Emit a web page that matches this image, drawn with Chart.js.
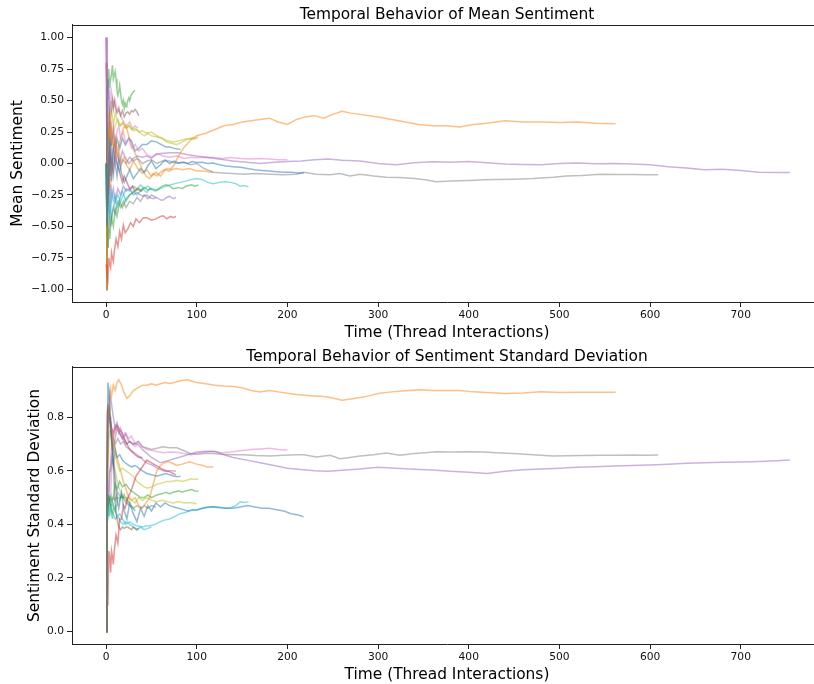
<!DOCTYPE html>
<html>
<head>
<meta charset="utf-8">
<script src="https://cdn.jsdelivr.net/npm/chart.js@4.4.0/dist/chart.umd.min.js"></script>
<style>
  html, body { margin: 0; padding: 0; background: #fff; overflow: hidden; width: 814px; height: 684px; }
  .panel { position: absolute; left: 0; width: 830px; height: 342px; }
  #top { top: 0; }
  #bottom { top: 342px; }
</style>
</head>
<body>
<div class="panel" id="top"><canvas id="meanChart" width="830" height="342"></canvas></div>
<div class="panel" id="bottom"><canvas id="stdChart" width="830" height="342"></canvas></div>
<script>
// tick labels
const xTicks = [0, 100, 200, 300, 400, 500, 600, 700];
const meanTicks = [-1, -0.75, -0.5, -0.25, 0, 0.25, 0.5, 0.75, 1];
const stdTicks = [0, 0.2, 0.4, 0.6, 0.8];

// one row per sample: [interaction, mean sentiment, sentiment std]
const blueLong = [[0,0,0],[1,-0.5,0.5],[2,-0.33,0.93],[3,-0.05,0.9],[4,0.2,0.84],[5,0,0.78],[6,-0.14,0.72],[8,0.1,0.64],[10,0,0.57],[12,-0.1,0.5],[14,0.05,0.46],[17,-0.08,0.52],[20,-0.15,0.45],[23,-0.1,0.42],[26,-0.05,0.48],[30,-0.12,0.44],[34,-0.08,0.41],[38,-0.04,0.46],[42,-0.07,0.43],[46,-0.02,0.47],[50,0.02,0.45],[55,-0.04,0.48],[60,-0.01,0.465],[65,0.03,0.48],[70,0,0.47],[75,0.02,0.465],[80,0.005,0.46],[85,0.01,0.455],[90,0,0.45],[95,0.015,0.455],[100,0.008,0.453],[106,0.01,0.46],[112,0,0.465],[118,0.003,0.466],[125,-0.01,0.462],[132,-0.02,0.46],[140,-0.025,0.46],[148,-0.03,0.465],[156,-0.04,0.47],[164,-0.05,0.465],[172,-0.055,0.46],[180,-0.06,0.46],[188,-0.065,0.455],[196,-0.07,0.45],[204,-0.07,0.44],[212,-0.075,0.435],[218,-0.075,0.428]];

const orangeLong = [[0,-1,0],[1,-0.5,0.5],[2,0,0.82],[3,0.25,0.83],[4,0.4,0.8],[5,0.17,0.9],[6,0.29,0.88],[8,0.12,0.92],[10,0.2,0.9],[12,0.05,0.93],[14,0.1,0.94],[17,0,0.92],[20,0.05,0.89],[23,-0.02,0.87],[26,-0.05,0.88],[30,0.02,0.9],[35,-0.04,0.91],[40,-0.08,0.92],[45,-0.05,0.92],[50,-0.1,0.925],[55,-0.07,0.92],[60,-0.1,0.925],[65,-0.05,0.93],[70,-0.06,0.926],[75,-0.01,0.93],[80,0.06,0.935],[85,0.12,0.938],[90,0.16,0.94],[95,0.2,0.935],[100,0.22,0.93],[110,0.24,0.925],[120,0.27,0.92],[130,0.3,0.917],[140,0.31,0.915],[150,0.33,0.91],[160,0.34,0.9],[170,0.35,0.895],[180,0.36,0.9],[190,0.33,0.895],[200,0.31,0.89],[210,0.35,0.885],[220,0.37,0.882],[230,0.38,0.88],[240,0.36,0.878],[250,0.39,0.872],[260,0.415,0.864],[270,0.4,0.868],[280,0.39,0.874],[290,0.38,0.88],[300,0.37,0.889],[315,0.35,0.895],[330,0.33,0.899],[345,0.31,0.903],[360,0.3,0.9],[375,0.3,0.9],[390,0.29,0.9],[405,0.31,0.895],[420,0.32,0.893],[440,0.34,0.889],[460,0.33,0.891],[480,0.33,0.895],[500,0.325,0.893],[520,0.33,0.894],[540,0.32,0.894],[562,0.315,0.894]];

const greenMid = [[0,0,0],[1,-0.5,0.5],[2,-0.67,0.47],[3,-0.5,0.5],[4,-0.6,0.49],[5,-0.5,0.5],[6,-0.43,0.49],[8,-0.5,0.5],[10,-0.36,0.55],[12,-0.42,0.53],[15,-0.3,0.56],[18,-0.35,0.54],[22,-0.28,0.55],[26,-0.25,0.53],[30,-0.23,0.52],[34,-0.2,0.51],[38,-0.22,0.5],[42,-0.19,0.5],[46,-0.21,0.51],[50,-0.2,0.5],[56,-0.21,0.51],[62,-0.18,0.515],[66,-0.17,0.52],[70,-0.18,0.515],[74,-0.2,0.52],[80,-0.19,0.525],[84,-0.2,0.52],[88,-0.18,0.525],[94,-0.17,0.53],[98,-0.18,0.525],[102,-0.17,0.524]];

const redMid = [[0,-0.8,0],[1,-0.9,0.1],[2,-0.93,0.1],[3,-0.75,0.3],[4,-0.8,0.28],[5,-0.83,0.22],[6,-0.71,0.3],[7,-0.75,0.28],[8,-0.78,0.25],[9,-0.7,0.3],[11,-0.6,0.36],[13,-0.66,0.33],[15,-0.54,0.42],[17,-0.6,0.42],[19,-0.49,0.47],[21,-0.55,0.46],[24,-0.52,0.5],[27,-0.47,0.52],[30,-0.5,0.55],[33,-0.44,0.58],[37,-0.47,0.6],[41,-0.43,0.62],[45,-0.43,0.64],[50,-0.45,0.63],[55,-0.44,0.62],[60,-0.42,0.61],[63,-0.415,0.605],[67,-0.44,0.6],[71,-0.42,0.595],[74,-0.43,0.59],[77,-0.42,0.584]];

const purpleLong = [[0,1,0],[1,0.5,0.5],[2,0,0.82],[3,-0.25,0.83],[4,0,0.89],[5,0.2,0.87],[6,0,0.85],[8,0.12,0.8],[10,0.18,0.76],[12,0.08,0.78],[15,0,0.74],[18,0.1,0.72],[21,0.05,0.74],[25,0,0.71],[30,0.04,0.7],[35,0.06,0.7],[40,0.05,0.68],[45,0.06,0.665],[50,0.04,0.65],[55,0.07,0.64],[60,0.08,0.63],[70,0.085,0.64],[80,0.085,0.65],[90,0.07,0.66],[100,0.06,0.67],[110,0.05,0.673],[120,0.04,0.672],[130,0.03,0.66],[140,0.02,0.65],[155,0.01,0.64],[170,0,0.63],[185,0.01,0.62],[200,0.015,0.61],[215,0.02,0.605],[230,0.03,0.6],[245,0.035,0.598],[260,0.025,0.602],[280,0.02,0.607],[300,0,0.613],[320,-0.01,0.61],[340,0.005,0.606],[360,0.013,0.603],[380,0.01,0.598],[400,0.015,0.595],[420,0.005,0.59],[440,-0.005,0.598],[460,-0.008,0.604],[480,-0.01,0.607],[500,0,0.61],[520,0.003,0.613],[540,-0.002,0.615],[560,0,0.618],[580,-0.005,0.62],[600,-0.01,0.622],[620,-0.025,0.625],[640,-0.035,0.628],[660,-0.05,0.63],[680,-0.045,0.632],[700,-0.055,0.633],[720,-0.07,0.635],[740,-0.072,0.638],[754,-0.072,0.64]];

const brownShort = [[0,-1,0],[1,-0.5,0.5],[2,0,0.82],[3,0.25,0.83],[4,0.4,0.8],[5,0.5,0.76],[6,0.43,0.73],[7,0.5,0.68],[8,0.44,0.62],[9,0.5,0.55],[10,0.45,0.48],[12,0.4,0.42],[14,0.43,0.39],[16,0.38,0.38],[18,0.42,0.39],[20,0.37,0.385],[22,0.4,0.39],[24,0.41,0.39],[26,0.39,0.385],[28,0.42,0.38],[30,0.41,0.39],[32,0.43,0.385],[34,0.41,0.38],[36,0.38,0.385]];

const pinkMid = [[0,1,0],[1,0.6,0.4],[2,0.3,0.55],[3,0.5,0.52],[4,0.25,0.6],[5,0.35,0.62],[6,0.2,0.7],[8,0.3,0.75],[10,0.15,0.77],[12,0.25,0.76],[14,0.3,0.74],[16,0.2,0.75],[19,0.25,0.72],[22,0.15,0.74],[25,0.2,0.72],[28,0.12,0.73],[32,0.15,0.7],[36,0.1,0.71],[40,0.12,0.69],[45,0.07,0.68],[50,0.05,0.677],[56,0.08,0.672],[63,0.06,0.668],[70,0.05,0.67],[78,0.06,0.669],[86,0.04,0.665],[94,0.05,0.66],[100,0.045,0.665],[110,0.05,0.67],[118,0.048,0.673],[128,0.04,0.668],[137,0.048,0.67],[148,0.04,0.675],[160,0.035,0.68],[170,0.04,0.682],[180,0.035,0.684],[190,0.03,0.68],[200,0.03,0.678]];

const grayLong = [[0,0,0],[1,0.5,0.5],[2,0,0.82],[3,-0.25,0.83],[4,0,0.8],[5,0.17,0.75],[6,0,0.72],[8,-0.1,0.68],[10,0.05,0.72],[12,0,0.76],[15,-0.06,0.74],[18,0.03,0.72],[22,0,0.7],[26,0.05,0.71],[30,0.02,0.7],[35,0.04,0.71],[40,0,0.69],[45,0.02,0.685],[50,0.03,0.68],[56,0,0.684],[62,0.02,0.69],[70,0.02,0.686],[78,0,0.686],[86,0.01,0.675],[93,-0.01,0.665],[100,0,0.662],[108,-0.04,0.665],[118,-0.07,0.665],[128,-0.075,0.662],[140,-0.08,0.66],[151,-0.085,0.66],[165,-0.08,0.657],[181,-0.085,0.655],[195,-0.09,0.658],[210,-0.085,0.66],[218,-0.07,0.66],[232,-0.085,0.652],[247,-0.09,0.658],[258,-0.08,0.645],[269,-0.1,0.65],[280,-0.085,0.655],[295,-0.1,0.66],[309,-0.11,0.667],[324,-0.112,0.658],[340,-0.12,0.665],[352,-0.13,0.668],[364,-0.145,0.671],[380,-0.14,0.67],[400,-0.135,0.671],[416,-0.13,0.67],[430,-0.128,0.668],[449,-0.125,0.665],[471,-0.12,0.66],[493,-0.11,0.655],[508,-0.1,0.656],[525,-0.095,0.657],[545,-0.085,0.658],[563,-0.087,0.658],[581,-0.087,0.659],[595,-0.09,0.658],[609,-0.09,0.659]];

const oliveMid = [[0,-1,0],[1,-0.5,0.5],[2,0,0.82],[3,0.25,0.83],[4,0.4,0.8],[5,0.33,0.75],[6,0.43,0.73],[8,0.3,0.7],[10,0.4,0.66],[12,0.35,0.63],[15,0.3,0.6],[18,0.32,0.61],[22,0.28,0.6],[26,0.3,0.59],[30,0.26,0.58],[34,0.27,0.56],[38,0.24,0.55],[42,0.22,0.54],[46,0.24,0.535],[50,0.22,0.54],[56,0.21,0.55],[62,0.2,0.555],[67,0.17,0.56],[72,0.16,0.56],[78,0.15,0.565],[84,0.17,0.56],[89,0.19,0.565],[94,0.2,0.57],[98,0.2,0.568],[102,0.21,0.57]];

const cyanMid = [[0,0,0],[1,-0.5,0.5],[2,-0.33,0.47],[3,-0.25,0.43],[4,-0.4,0.45],[5,-0.33,0.44],[6,-0.2,0.5],[8,-0.3,0.47],[10,-0.25,0.45],[12,-0.35,0.43],[15,-0.28,0.44],[18,-0.22,0.42],[22,-0.3,0.4],[26,-0.25,0.41],[30,-0.22,0.4],[34,-0.25,0.395],[40,-0.2,0.39],[45,-0.23,0.395],[48,-0.2,0.395],[54,-0.22,0.4],[60,-0.2,0.41],[63,-0.19,0.415],[70,-0.17,0.42],[76,-0.16,0.43],[82,-0.15,0.44],[88,-0.14,0.445],[92,-0.13,0.45],[100,-0.12,0.455],[107,-0.13,0.46],[112,-0.15,0.463],[118,-0.16,0.466],[125,-0.15,0.465],[131,-0.145,0.46],[137,-0.15,0.462],[143,-0.16,0.47],[148,-0.18,0.484],[152,-0.175,0.482],[157,-0.185,0.484]];

const blueShort = [[0,0,0],[1,0.5,0.5],[2,0.67,0.47],[3,0.5,0.5],[4,0.2,0.6],[5,0.33,0.6],[6,0.14,0.65],[8,0.25,0.62],[10,0.1,0.68],[12,0.2,0.65],[15,0.12,0.66],[18,0.2,0.64],[21,0.15,0.63],[25,0.2,0.62],[28,0.18,0.615],[32,0.1,0.62],[36,0.12,0.61],[40,0.15,0.6],[45,0.15,0.59],[50,0.18,0.585],[56,0.17,0.58],[61,0.15,0.585],[66,0.13,0.59],[70,0.13,0.585],[75,0.12,0.58],[79,0.115,0.578],[82,0.114,0.58]];

const orangeMid = [[0,0,0],[1,-0.5,0.5],[2,0,0.82],[3,0.25,0.83],[4,0,0.8],[5,-0.2,0.78],[6,0,0.75],[8,0.12,0.72],[10,0.2,0.68],[13,0.1,0.64],[16,0.2,0.6],[19,0.28,0.56],[22,0.3,0.53],[25,0.22,0.5],[28,0.15,0.49],[32,0.08,0.5],[36,0.02,0.47],[40,-0.05,0.46],[44,-0.1,0.48],[48,-0.12,0.5],[52,-0.08,0.55],[56,-0.1,0.6],[60,-0.07,0.62],[64,-0.05,0.63],[68,-0.04,0.635],[72,-0.05,0.63],[78,-0.04,0.62],[84,-0.05,0.625],[92,-0.04,0.634],[100,-0.06,0.625],[107,-0.06,0.62],[112,-0.065,0.613],[118,-0.07,0.615]];

const greenShort = [[0,0,0],[1,0.5,0.5],[2,0.67,0.47],[3,0.75,0.43],[4,0.6,0.49],[5,0.67,0.47],[6,0.71,0.45],[7,0.78,0.42],[8,0.67,0.47],[9,0.7,0.46],[10,0.73,0.45],[11,0.67,0.47],[12,0.58,0.5],[13,0.54,0.5],[14,0.57,0.5],[15,0.62,0.49],[16,0.56,0.5],[17,0.5,0.51],[18,0.47,0.5],[19,0.5,0.5],[20,0.44,0.51],[21,0.48,0.5],[22,0.45,0.5],[23,0.47,0.49],[24,0.5,0.49],[25,0.52,0.48],[26,0.5,0.48],[27,0.53,0.47],[28,0.55,0.47],[30,0.57,0.46],[32,0.58,0.45]];

const redShort = [[0,0.8,0],[1,0,0.8],[2,-0.33,0.85],[3,-0.1,0.8],[4,0.1,0.8],[5,-0.1,0.78],[6,0.05,0.76],[8,-0.05,0.74],[10,0.1,0.76],[12,0,0.77],[14,-0.05,0.76],[16,-0.1,0.75],[18,-0.15,0.74],[20,-0.1,0.72],[23,-0.15,0.7],[26,-0.2,0.68],[29,-0.18,0.67],[32,-0.22,0.66],[36,-0.2,0.65],[40,-0.22,0.65]];

const purpleShort = [[0,0,0],[1,0.5,0.5],[2,0,0.82],[3,-0.25,0.83],[4,-0.4,0.8],[5,-0.17,0.8],[6,-0.29,0.76],[8,-0.2,0.72],[10,-0.3,0.7],[13,-0.2,0.72],[16,-0.25,0.7],[19,-0.18,0.71],[22,-0.22,0.69],[26,-0.2,0.68],[30,-0.25,0.67],[34,-0.23,0.66],[38,-0.25,0.65],[41,-0.26,0.64],[45,-0.25,0.63],[48,-0.27,0.625],[52,-0.28,0.62],[56,-0.27,0.61],[60,-0.29,0.605],[63,-0.29,0.6],[67,-0.27,0.598],[70,-0.26,0.6],[74,-0.28,0.6],[77,-0.27,0.598]];

const pinkShort = [[0,1,0],[1,0.5,0.5],[2,0.67,0.47],[3,0.5,0.5],[4,0.6,0.49],[5,0.5,0.5],[6,0.57,0.6],[8,0.45,0.72],[10,0.5,0.75],[12,0.42,0.77],[14,0.45,0.74],[16,0.38,0.76],[18,0.35,0.73],[20,0.32,0.72],[23,0.3,0.7],[26,0.33,0.71],[29,0.28,0.7],[32,0.3,0.69],[35,0.28,0.7]];

const grayShort = [[0,-1,0],[1,-0.5,0.5],[2,-0.67,0.47],[3,-0.5,0.5],[4,-0.4,0.49],[5,-0.5,0.47],[6,-0.43,0.47],[8,-0.35,0.5],[10,-0.4,0.49],[13,-0.3,0.52],[16,-0.35,0.5],[19,-0.3,0.5],[22,-0.35,0.48],[26,-0.3,0.47],[30,-0.32,0.46],[34,-0.27,0.47],[38,-0.3,0.46],[42,-0.25,0.47],[46,-0.28,0.46],[50,-0.25,0.47],[55,-0.27,0.465]];

const oliveShort = [[0,-1,0],[1,-0.5,0.5],[2,-0.33,0.47],[3,0,0.71],[4,0.2,0.75],[5,0.33,0.75],[6,0.14,0.7],[8,0.25,0.64],[10,0.3,0.6],[13,0.35,0.55],[16,0.3,0.52],[19,0.33,0.5],[22,0.28,0.49],[25,0.3,0.5],[28,0.27,0.49],[32,0.28,0.48],[36,0.25,0.5],[40,0.26,0.49],[45,0.24,0.5],[50,0.25,0.49],[56,0.22,0.485],[62,0.2,0.49],[68,0.18,0.485],[74,0.17,0.48],[80,0.18,0.485],[86,0.19,0.48],[92,0.2,0.482],[96,0.19,0.48],[100,0.2,0.478]];

const cyanShort = [[0,0,0],[1,-0.5,0.5],[2,-0.33,0.47],[3,-0.5,0.5],[4,-0.4,0.49],[5,-0.33,0.47],[6,-0.43,0.45],[8,-0.35,0.44],[10,-0.3,0.42],[13,-0.25,0.43],[16,-0.3,0.41],[19,-0.25,0.4],[22,-0.2,0.41],[26,-0.22,0.4],[30,-0.18,0.39],[34,-0.2,0.38],[38,-0.17,0.39],[42,-0.2,0.38],[46,-0.18,0.385],[50,-0.2,0.39]];

const tab = {
  blue: 'rgba(31,119,180,0.5)', orange: 'rgba(255,127,14,0.5)', green: 'rgba(44,160,44,0.5)',
  red: 'rgba(214,39,40,0.5)', purple: 'rgba(148,103,189,0.5)', brown: 'rgba(140,86,75,0.5)',
  pink: 'rgba(227,119,194,0.5)', gray: 'rgba(127,127,127,0.5)', olive: 'rgba(188,189,34,0.5)',
  cyan: 'rgba(23,190,207,0.5)'
};

// plotting order follows the colour cycle
const threads = [
  { rows: blueLong, color: tab.blue },
  { rows: orangeLong, color: tab.orange },
  { rows: greenMid, color: tab.green },
  { rows: redMid, color: tab.red },
  { rows: purpleLong, color: tab.purple },
  { rows: brownShort, color: tab.brown },
  { rows: pinkMid, color: tab.pink },
  { rows: grayLong, color: tab.gray },
  { rows: oliveMid, color: tab.olive },
  { rows: cyanMid, color: tab.cyan },
  { rows: blueShort, color: tab.blue },
  { rows: orangeMid, color: tab.orange },
  { rows: greenShort, color: tab.green },
  { rows: redShort, color: tab.red },
  { rows: purpleShort, color: tab.purple },
  { rows: pinkShort, color: tab.pink },
  { rows: grayShort, color: tab.gray },
  { rows: oliveShort, color: tab.olive },
  { rows: cyanShort, color: tab.cyan }
];

const FONT = "'DejaVu Sans', sans-serif";
const INK = '#222';

// top and right spines (left/bottom come from the axis borders)
const frame = {
  id: 'frame',
  afterDraw(chart) {
    const a = chart.chartArea;
    const ctx = chart.ctx;
    ctx.save();
    ctx.strokeStyle = INK;
    ctx.lineWidth = 1;
    ctx.beginPath();
    ctx.moveTo(a.left, Math.round(a.top) + 0.5);
    ctx.lineTo(a.right, Math.round(a.top) + 0.5);
    ctx.moveTo(Math.round(a.right) - 0.5, a.top);
    ctx.lineTo(Math.round(a.right) - 0.5, a.bottom);
    ctx.stroke();
    ctx.restore();
  }
};

function buildChart(canvasId, col, cfg) {
  return new Chart(document.getElementById(canvasId), {
    type: 'line',
    data: {
      datasets: threads.map(t => ({
        data: t.rows.map(r => ({ x: r[0], y: r[col] })),
        borderColor: t.color,
        borderWidth: 1.5,
        pointRadius: 0,
        tension: 0,
        fill: false
      }))
    },
    options: {
      responsive: false,
      animation: false,
      layout: { padding: { left: 0, right: 8, top: 0, bottom: 0 } },
      plugins: {
        legend: { display: false },
        tooltip: { enabled: false },
        title: {
          display: true, text: cfg.title, fullSize: false, color: '#000',
          font: { family: FONT, size: 15.4, weight: 'normal' },
          padding: { top: 5.5, bottom: 1 }
        }
      },
      scales: {
        x: {
          type: 'linear', min: -37.6, max: 789.6,
          afterFit: s => { s.height = 40; },
          afterBuildTicks: s => { s.ticks = xTicks.map(v => ({ value: v })); },
          grid: { drawOnChartArea: false, drawTicks: true, tickLength: 5, color: INK },
          border: { display: true, color: INK, width: 1 },
          ticks: { color: '#111', padding: 1.5, maxRotation: 0, autoSkip: false,
                   font: { family: FONT, size: 10.7 }, callback: v => String(v) },
          title: { display: true, text: 'Time (Thread Interactions)', color: '#000',
                   font: { family: FONT, size: 15.4 }, padding: { top: 0, bottom: 0 } }
        },
        y: {
          type: 'linear', min: cfg.yMin, max: cfg.yMax,
          afterFit: s => { s.width = 72; },
          afterBuildTicks: s => { s.ticks = cfg.ticks.map(v => ({ value: v })); },
          grid: { drawOnChartArea: false, drawTicks: true, tickLength: 5, color: INK },
          border: { display: true, color: INK, width: 1 },
          ticks: { color: '#111', padding: 3, autoSkip: false,
                   font: { family: FONT, size: 10.7 },
                   callback: v => v.toFixed(cfg.digits).replace('-', '\u2212') },
          title: { display: true, text: cfg.yLabel, color: '#000',
                   font: { family: FONT, size: 15.4 }, padding: { top: cfg.yPad, bottom: 0 } }
        }
      }
    },
    plugins: [frame]
  });
}

buildChart('meanChart', 1, {
  title: 'Temporal Behavior of Mean Sentiment', yLabel: 'Mean Sentiment',
  yMin: -1.1, yMax: 1.1, ticks: meanTicks, digits: 2, yPad: 8.8
});

buildChart('stdChart', 2, {
  title: 'Temporal Behavior of Sentiment Standard Deviation', yLabel: 'Sentiment Standard Deviation',
  yMin: -0.047, yMax: 0.988, ticks: stdTicks, digits: 1, yPad: 25.4
});
</script>
</body>
</html>
